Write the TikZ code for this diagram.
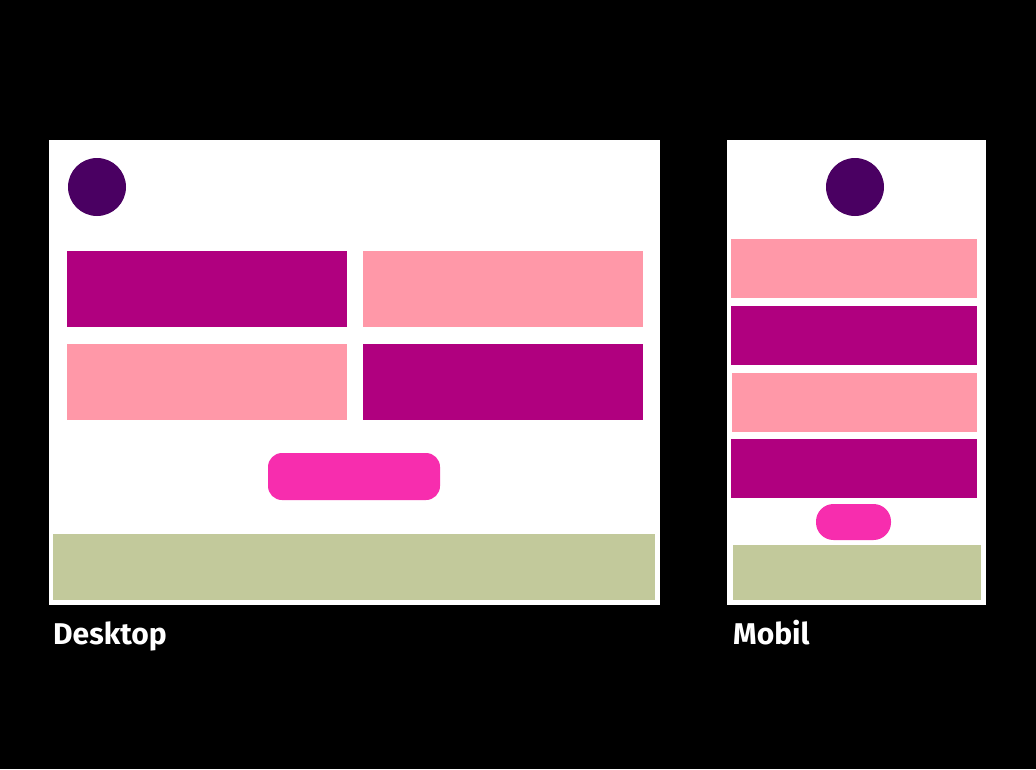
\documentclass[tikz,border=0pt]{standalone}
\usepackage{fontspec}
\setmainfont{Fira Sans}
\definecolor{dpurple}{HTML}{4A0062}
\definecolor{mag}{HTML}{B0007F}
\definecolor{lpink}{HTML}{FF98A8}
\definecolor{hpink}{HTML}{F72DAE}
\definecolor{sage}{HTML}{C2C99B}
\begin{document}
\begin{tikzpicture}[x=1pt,y=-1pt,
  frame/.style={fill=white},
  blk/.style={inner sep=0pt},
  lbl/.style={text=white,font=\bfseries\fontsize{30}{32}\selectfont,anchor=base west,inner sep=0pt}]
\fill[black] (0,0) rectangle (1036,769);
\useasboundingbox (0,0) rectangle (1036,769);
% Desktop
\fill[frame] (49,140) rectangle (660,605);
\fill[dpurple] (97,187) circle (29);
\fill[mag] (67,251) rectangle (347,327);
\fill[lpink] (363,251) rectangle (643,327);
\fill[lpink] (67,344) rectangle (347,420);
\fill[mag] (363,344) rectangle (643,420);
\fill[hpink,rounded corners=14] (268,453) rectangle (440,500);
\fill[sage] (53,534) rectangle (655,600);
\node[lbl] (dl) at (53,644) {Desktop};
% Mobile
\fill[frame] (727,140) rectangle (986,605);
\fill[dpurple] (855,187) circle (29);
\fill[lpink] (731,239) rectangle (977,298);
\fill[mag] (731,306) rectangle (977,365);
\fill[lpink] (732,373) rectangle (977,432);
\fill[mag] (731,439) rectangle (977,498);
\fill[hpink,rounded corners=17.5] (816,504) rectangle (891,540);
\fill[sage] (733,545) rectangle (981,600);
\node[lbl] (ml) at (733,644) {Mobil};
\end{tikzpicture}
\end{document}
